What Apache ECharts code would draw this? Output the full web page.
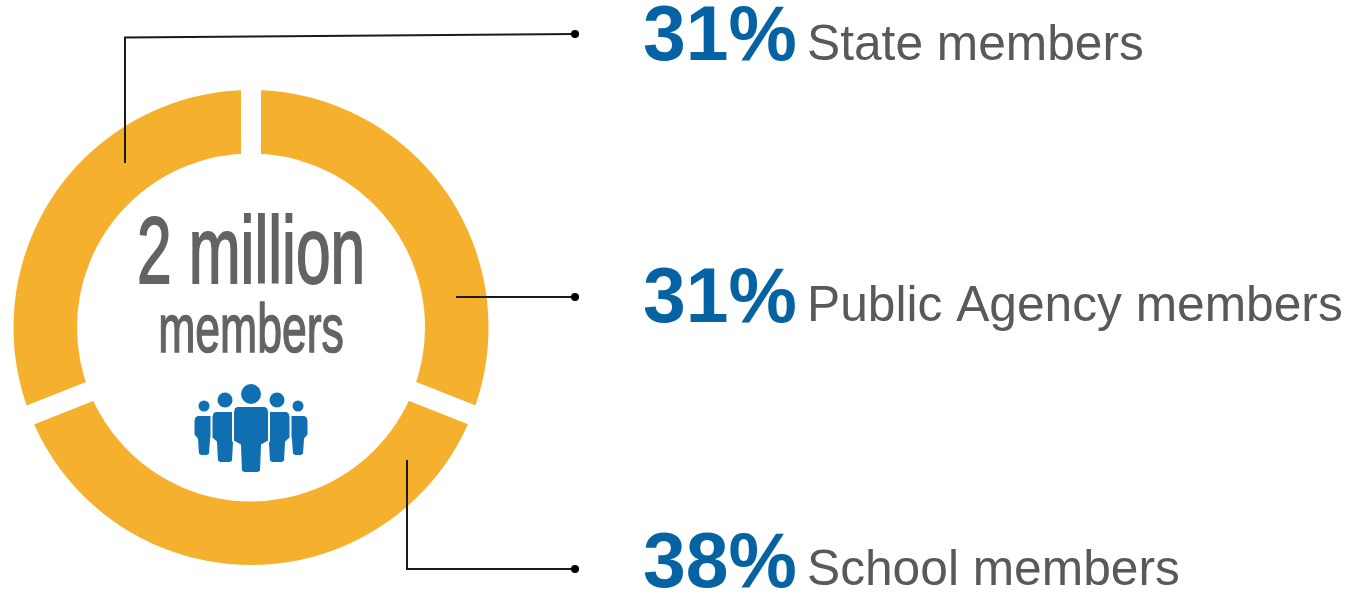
<!DOCTYPE html>
<html><head><meta charset="utf-8">
<style>html,body{margin:0;padding:0;background:#fff}#c{width:1348px;height:593px}</style>
<script src="https://cdn.jsdelivr.net/npm/echarts@6/dist/echarts.min.js"></script>
</head><body><div id="c"></div>
<script>
const categories = ['Public Agency members', 'School members', 'State members'];
const values = [31, 38, 31];
const legendOrder = ['State members', 'Public Agency members', 'School members'];
const centerTitle = '2 million';
const centerSub = 'members';

const chart = echarts.init(document.getElementById('c'), null, {renderer: 'canvas'});
const byName = Object.fromEntries(categories.map((c, i) => [c, values[i]]));
const pctY = [38.5, 300.5, 565.5];
const nameY = [46, 307, 571];
const cx = 251, cy = 327.5;

const leaders = [
  [[125, 163], [125, 37.5], [575, 34]],
  [[456, 297], [575, 297]],
  [[407, 460], [407, 569], [575, 569]]
];
const graphics = [];
leaders.forEach(pts => {
  graphics.push({type: 'polyline', z: 10, shape: {points: pts}, style: {fill: null, stroke: '#1a1a1a', lineWidth: 2}});
  const e = pts[pts.length - 1];
  graphics.push({type: 'circle', z: 10, shape: {cx: e[0], cy: e[1], r: 4}, style: {fill: '#000'}});
});
legendOrder.forEach((name, i) => {
  graphics.push({type: 'text', z: 10, x: 643, y: pctY[i], scaleX: 0.985, style: {text: byName[name] + '%', font: 'bold 78px "Liberation Sans"', fill: '#0563a3', textVerticalAlign: 'middle'}});
  graphics.push({type: 'text', z: 10, x: 807, y: nameY[i], style: {text: name, font: '49.7px "Liberation Sans"', fill: '#595959', textVerticalAlign: 'middle'}});
});
graphics.push({type: 'text', z: 10, x: cx, y: 257, scaleX: 0.655, style: {text: centerTitle, font: '95px "Liberation Sans"', fill: '#636363', stroke: '#636363', lineWidth: 2, textAlign: 'center', textVerticalAlign: 'middle'}});
graphics.push({type: 'text', z: 10, x: cx, y: 333, scaleX: 0.655, style: {text: centerSub, font: '68px "Liberation Sans"', fill: '#636363', stroke: '#636363', lineWidth: 1.5, textAlign: 'center', textVerticalAlign: 'middle'}});

const blue = '#0f6fb0';
function person(x, headY, r, top, hw, armY, lw, bottom) {
  graphics.push({type: 'circle', z: 10, shape: {cx: x, cy: headY, r: r}, style: {fill: blue}});
  graphics.push({type: 'polygon', z: 10, shape: {points: [
    [x - hw + 4, top], [x + hw - 4, top], [x + hw - 1, top + 2], [x + hw, top + 6],
    [x + hw, armY - 2], [x + lw + 1, armY + 2], [x + lw, bottom - 2], [x + lw - 3, bottom],
    [x - lw + 3, bottom], [x - lw, bottom - 2], [x - lw - 1, armY + 2], [x - hw, armY - 2],
    [x - hw, top + 6], [x - hw + 1, top + 2]
  ]}, style: {fill: blue, stroke: '#fff', lineWidth: 2}});
}
person(204, 406, 5.5, 415, 10.5, 437, 6, 456);
person(298, 406, 5.5, 415, 10.5, 437, 6, 456);
person(225, 400, 7.5, 411, 13.5, 440, 8, 463);
person(277, 400, 7.5, 411, 13.5, 440, 8, 463);
person(251, 394, 10, 406, 18, 443, 10, 473);

chart.setOption({
  animation: false,
  backgroundColor: '#fff',
  series: [{
    type: 'pie',
    center: [cx, cy],
    radius: [164, 247.5],
    startAngle: 90,
    clockwise: true,
    silent: true,
    label: {show: false},
    labelLine: {show: false},
    itemStyle: {color: '#f5b02e', borderColor: '#fff', borderWidth: 20},
    data: categories.map((c, i) => ({name: c, value: values[i]}))
  }],
  graphic: graphics
});
</script></body></html>
